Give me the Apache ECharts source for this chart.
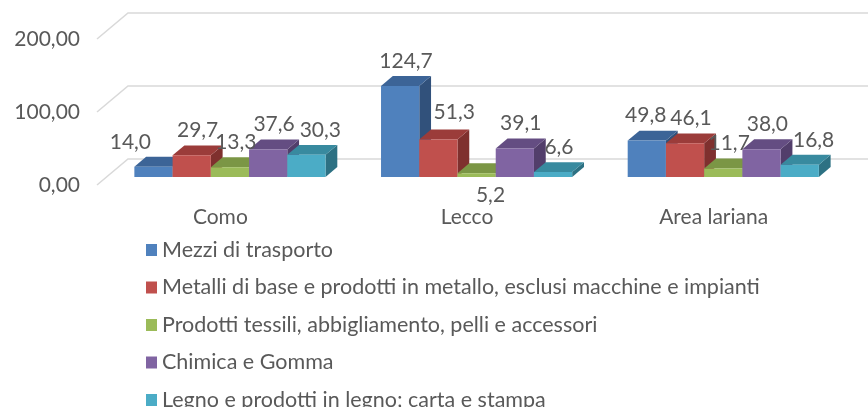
<!DOCTYPE html>
<html>
<head>
<meta charset="utf-8">
<script src="https://cdn.jsdelivr.net/npm/echarts@6/dist/echarts.min.js"></script>
<style>
  html, body { margin: 0; padding: 0; background: #fff; }
  #chart { width: 868px; height: 407px; }
</style>
</head>
<body>
<div id="chart"></div>
<script>
const categories = ['Como', 'Lecco', 'Area lariana']
const seriesNames = [
  'Mezzi di trasporto',
  'Metalli di base e prodotti in metallo, esclusi macchine e impianti',
  'Prodotti tessili, abbigliamento, pelli e accessori',
  'Chimica e Gomma',
  'Legno e prodotti in legno; carta e stampa'
]
const mezzi = [14.0, 124.7, 49.8]
const metalli = [29.7, 51.3, 46.1]
const tessili = [13.3, 5.2, 11.7]
const chimica = [37.6, 39.1, 38.0]
const legno = [30.3, 6.6, 16.8]
const yTicks = [0, 100, 200]

const seriesValues = [mezzi, metalli, tessili, chimica, legno]

// front / top / side face colours
const palette = [
  { front: '#4f81bd', top: '#3c6497', side: '#31517b' },
  { front: '#c0504d', top: '#9b3c3a', side: '#7f302e' },
  { front: '#9bbb59', top: '#7b9645', side: '#647a37' },
  { front: '#8064a2', top: '#644d82', side: '#523e6b' },
  { front: '#4bacc6', top: '#388a9f', side: '#2d7183' }
]

const FONT = 'Lato, "Noto Sans", sans-serif'
const TEXT = '#595959'
// floor depth in pixels (oblique projection)
const DEPTH = [31, -26]
const D0 = 0.31
const D1 = 0.69
const BAR_FRAC = 0.155

// a few label nudges, like Excel does to avoid overlaps
const labelShift = {
  '0-0': [-29, 0],
  '0-2': [-7, 0],
  '1-1': [10, -2],
  '2-1': [8, 0],
  '4-0': [8, 0],
  '4-2': [8, 0]
}

const chart = echarts.init(document.getElementById('chart'))

const fmt1 = v => v.toFixed(1).replace('.', ',')

const gridSeries = {
  type: 'custom',
  xAxisIndex: 1,
  silent: true,
  data: yTicks.map(v => [0, v]),
  renderItem: (params, api) => {
    const v = api.value(1)
    const p = api.coord([0, v])
    const q = api.coord([3, v])
    return {
      type: 'polyline',
      shape: {
        points: [p, [p[0] + DEPTH[0], p[1] + DEPTH[1]], [q[0] + DEPTH[0], q[1] + DEPTH[1]]]
      },
      style: { stroke: '#d9d9d9', lineWidth: 1.5, fill: null }
    }
  }
}

const barSeries = seriesNames.map((name, s) => ({
  type: 'custom',
  name: name,
  xAxisIndex: 1,
  itemStyle: { color: palette[s].front },
  data: seriesValues[s].map((v, i) => [i + 0.5, v]),
  renderItem: (params, api) => {
    const ci = Math.round(api.value(0) - 0.5)
    const v = api.value(1)
    const c = api.coord([api.value(0), v])
    const b = api.coord([api.value(0), 0])
    const band = api.size([1, 0])[0]
    const bw = band * BAR_FRAC
    const fx = DEPTH[0] * D0, fy = DEPTH[1] * D0
    const dx = DEPTH[0] * (D1 - D0), dy = DEPTH[1] * (D1 - D0)
    const x0 = c[0] - 2.5 * bw + s * bw + fx
    const x1 = x0 + bw
    const yt = c[1] + fy
    const yb = b[1] + fy
    const col = palette[s]
    const shift = labelShift[s + '-' + ci] || [0, 0]
    let lx = (x0 + x1) / 2 + dx / 2 + shift[0]
    let ly = yt + dy - 15 + shift[1]
    if (v < 6) ly = yb + 18
    return {
      type: 'group',
      children: [
        {
          type: 'polygon',
          shape: { points: [[x1, yt], [x1 + dx, yt + dy], [x1 + dx, yb + dy], [x1, yb]] },
          style: { fill: col.side }
        },
        {
          type: 'polygon',
          shape: { points: [[x0, yt], [x1, yt], [x1 + dx, yt + dy], [x0 + dx, yt + dy]] },
          style: { fill: col.top }
        },
        {
          type: 'rect',
          shape: { x: x0, y: yt, width: bw, height: yb - yt },
          style: { fill: col.front }
        },
        {
          type: 'text',
          z2: 10,
          style: {
            x: lx, y: ly, text: fmt1(v),
            fill: TEXT, font: '21px ' + FONT,
            align: 'center', verticalAlign: 'middle'
          }
        }
      ]
    }
  }
}))

const option = {
  animation: false,
  backgroundColor: '#fff',
  textStyle: { fontFamily: FONT },
  grid: { left: 97, right: 31, top: 39, bottom: 222 },
  legend: {
    data: seriesNames,
    orient: 'vertical',
    left: 141,
    top: 234,
    height: 200,
    icon: 'rect',
    itemWidth: 11,
    itemHeight: 12,
    itemGap: 15.5,
    selectedMode: false,
    textStyle: { color: TEXT, fontSize: 21.5, fontFamily: FONT, lineHeight: 20 }
  },
  xAxis: [
    {
      type: 'category',
      data: categories,
      axisLine: { show: false },
      axisTick: { show: false },
      splitLine: { show: false },
      axisLabel: { color: TEXT, fontSize: 21, fontFamily: FONT, margin: 22 }
    },
    { type: 'value', min: 0, max: 3, show: false }
  ],
  yAxis: {
    type: 'value',
    min: 0,
    max: 200,
    interval: 100,
    axisLine: { show: false },
    axisTick: { show: false },
    splitLine: { show: false },
    axisLabel: {
      color: TEXT, fontSize: 21, fontFamily: FONT, margin: 17,
      formatter: v => v.toFixed(2).replace('.', ',')
    }
  },
  series: [gridSeries].concat(barSeries)
}

chart.setOption(option)
</script>
</body>
</html>
